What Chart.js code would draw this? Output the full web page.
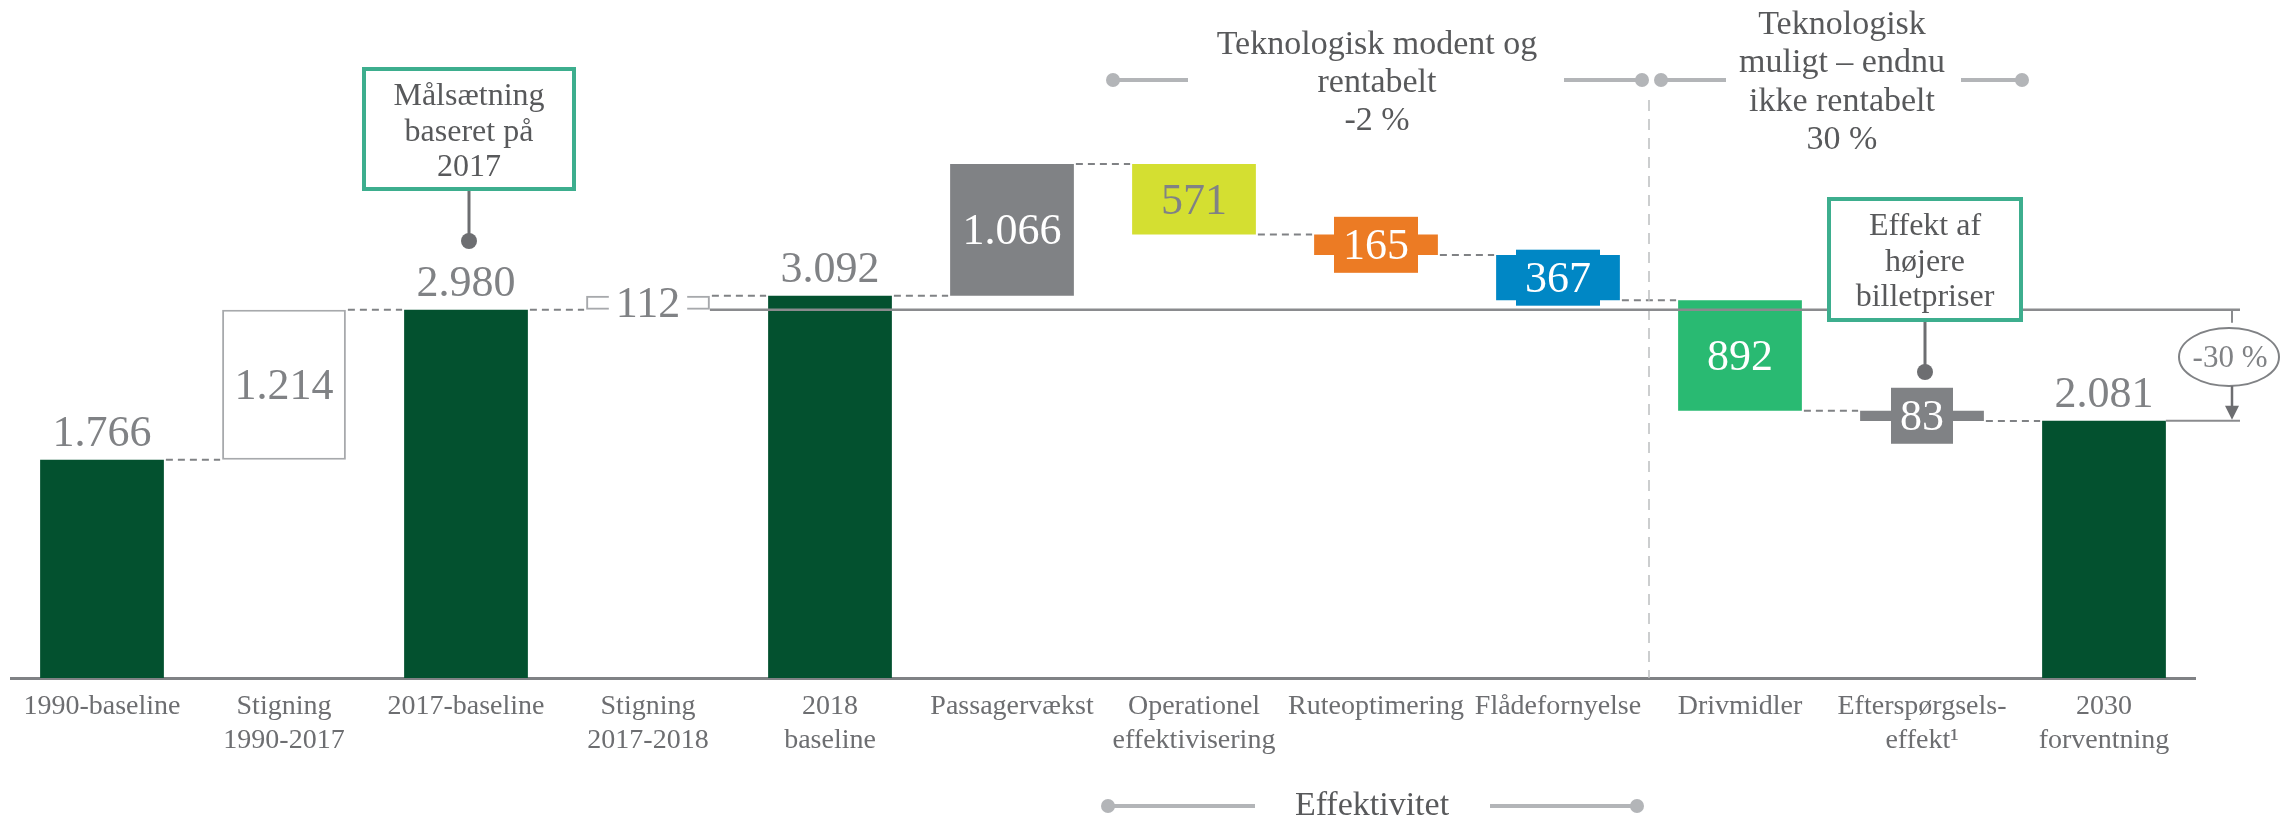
<!DOCTYPE html>
<html>
<head>
<meta charset="utf-8">
<script src="https://cdn.jsdelivr.net/npm/chart.js@4.4.1/dist/chart.umd.min.js"></script>
<style>
  html, body { margin: 0; padding: 0; background: #ffffff; }
  #wrap { width: 2282px; height: 821px; }
</style>
</head>
<body>
<div id="wrap"><canvas id="barCanvas" width="2282" height="821"></canvas></div>
<script>
const categories = [
    ['1990-baseline'], ['Stigning', '1990-2017'], ['2017-baseline'], ['Stigning', '2017-2018'],
    ['2018', 'baseline'], ['Passagervækst'], ['Operationel', 'effektivisering'], ['Ruteoptimering'],
    ['Flådefornyelse'], ['Drivmidler'], ['Efterspørgsels-', 'effekt¹'], ['2030', 'forventning']
];
const values = [1766, 1214, 2980, 112, 3092, 1066, 571, 165, 367, 892, 83, 2081];
const kinds = ['total', 'up', 'total', 'up', 'total', 'up', 'down', 'down', 'down', 'down', 'down', 'total'];
const valueLabels = ['1.766', '1.214', '2.980', '112', '3.092', '1.066', '571', '165', '367', '892', '83', '2.081'];

const barColors = ['#03512F', '#FFFFFF', '#03512F', 'rgba(0,0,0,0)', '#03512F', '#808285',
    '#D4DF31', '#EC7B24', '#0087C5', '#29BA72', '#808285', '#03512F'];
const borderWidths = [0, 2, 0, 2, 0, 0, 0, 0, 0, 0, 0, 0];
const labelPos = ['above', 'center', 'above', 'center', 'above', 'center', 'center', 'center', 'center', 'center', 'center', 'above'];
const labelColors = ['#808285', '#808285', '#808285', '#808285', '#808285', '#FFFFFF',
    '#808285', '#FFFFFF', '#FFFFFF', '#FFFFFF', '#FFFFFF', '#808285'];
const labelBoxes = [null, null, null, '#FFFFFF', null, null, null, '#EC7B24', '#0087C5', null, '#808285', null];

const serif = "'Liberation Serif', 'DejaVu Serif', serif";

// waterfall ranges + running level after each step
const ranges = [];
const levels = [];
let run = 0;
values.forEach((v, i) => {
    if (kinds[i] === 'total') { ranges.push([0, v]); run = v; }
    else if (kinds[i] === 'up') { ranges.push([run, run + v]); run += v; }
    else { ranges.push([run - v, run]); run -= v; }
    levels.push(run);
});

function line(ctx, x1, y1, x2, y2, color, w, dash) {
    ctx.save();
    ctx.strokeStyle = color;
    ctx.lineWidth = w;
    ctx.setLineDash(dash || []);
    ctx.beginPath();
    ctx.moveTo(x1, y1);
    ctx.lineTo(x2, y2);
    ctx.stroke();
    ctx.restore();
}

function dot(ctx, x, y, r, color) {
    ctx.fillStyle = color;
    ctx.beginPath();
    ctx.arc(x, y, r, 0, Math.PI * 2);
    ctx.fill();
}

function textLines(ctx, lines, x, y0, step, font, color) {
    ctx.font = font;
    ctx.fillStyle = color;
    ctx.textAlign = 'center';
    ctx.textBaseline = 'middle';
    lines.forEach((t, k) => ctx.fillText(t, x, y0 + k * step));
}

function callout(ctx, cx, top, h, w, lines, dotY) {
    line(ctx, cx, top + h, cx, dotY, '#6D6E71', 3);
    dot(ctx, cx, dotY, 8, '#6D6E71');
    ctx.fillStyle = '#FFFFFF';
    ctx.fillRect(cx - w / 2, top, w, h);
    ctx.strokeStyle = '#3DAE8E';
    ctx.lineWidth = 4;
    ctx.strokeRect(cx - w / 2, top, w, h);
    textLines(ctx, lines, cx, top + 28, 35.5, `32px ${serif}`, '#58595B');
}

function groupHeader(ctx, x1, x2, y, segL, segR, color) {
    line(ctx, x1, y, x1 + segL, y, color, 4);
    line(ctx, x2 - segR, y, x2, y, color, 4);
    dot(ctx, x1, y, 7, color);
    dot(ctx, x2, y, 7, color);
}

const waterfallPlugin = {
    id: 'waterfall',
    beforeDatasetsDraw(chart) {
        const ctx = chart.ctx;
        const xs = chart.scales.x, ys = chart.scales.y;
        const bars = chart.getDatasetMeta(0).data;
        // connectors
        for (let i = 0; i < bars.length - 1; i++) {
            const y = ys.getPixelForValue(levels[i]);
            const a = bars[i].x + bars[i].width / 2;
            const b = bars[i + 1].x - bars[i + 1].width / 2;
            line(ctx, a + 2, y, b - 2, y, '#808285', 2, [7, 5]);
        }
        // split between efficiency and technology parts
        const vx = xs.getPixelForValue(8.5);
        line(ctx, vx, 100, vx, chart.chartArea.bottom, '#BCBEC0', 1.5, [11, 8]);
    },
    afterDatasetsDraw(chart) {
        const ctx = chart.ctx;
        const xs = chart.scales.x, ys = chart.scales.y;
        const bars = chart.getDatasetMeta(0).data;

        // reference line at 2017 level
        const refY = ys.getPixelForValue(values[2]);
        const endX = chart.chartArea.right + 45;
        line(ctx, bars[3].x + bars[3].width / 2, refY, endX, refY, '#8A8B8E', 2.5);

        // value labels
        ctx.save();
        bars.forEach((bar, i) => {
            const top = Math.min(bar.y, bar.base);
            const bottom = Math.max(bar.y, bar.base);
            ctx.font = `44px ${serif}`;
            ctx.textAlign = 'center';
            const t = valueLabels[i];
            const tw = ctx.measureText(t).width;
            if (labelPos[i] === 'above') {
                ctx.textBaseline = 'alphabetic';
                ctx.fillStyle = labelColors[i];
                ctx.fillText(t, bar.x, top - 14);
                return;
            }
            const cy = (top + bottom) / 2;
            if (labelBoxes[i]) {
                ctx.fillStyle = labelBoxes[i];
                const white = labelBoxes[i] === '#FFFFFF';
                const pad = white ? 7 : 9;
                const h = white ? 30 : 56;
                ctx.fillRect(bar.x - tw / 2 - pad, cy - h / 2, tw + pad * 2, h);
            }
            ctx.textBaseline = 'middle';
            ctx.fillStyle = labelColors[i];
            ctx.fillText(t, bar.x, cy + 3);
        });
        ctx.restore();

        // -30 % marker
        const ax = endX - 8;
        const lowY = ys.getPixelForValue(values[11]);
        line(ctx, bars[11].x + bars[11].width / 2, lowY, endX, lowY, '#8A8B8E', 2);
        line(ctx, ax, refY, ax, refY + 13, '#8A8B8E', 2);
        ctx.save();
        ctx.strokeStyle = '#808285';
        ctx.lineWidth = 2;
        ctx.beginPath();
        ctx.ellipse(ax - 3, 357, 50, 29, 0, 0, Math.PI * 2);
        ctx.stroke();
        ctx.restore();
        line(ctx, ax, 386, ax, lowY - 14, '#6D6E71', 2.5);
        ctx.fillStyle = '#6D6E71';
        ctx.beginPath();
        ctx.moveTo(ax - 7, lowY - 15);
        ctx.lineTo(ax + 7, lowY - 15);
        ctx.lineTo(ax, lowY - 1);
        ctx.closePath();
        ctx.fill();
        textLines(ctx, ['-30 %'], ax - 2, 359, 0, `31px ${serif}`, '#808285');

        // callouts
        callout(ctx, bars[2].x + 3, 69, 120, 210, ['Målsætning', 'baseret på', '2017'], 241);
        callout(ctx, bars[10].x + 3, 199, 121, 192, ['Effekt af', 'højere', 'billetpriser'], 372);

        // group headers
        const b1 = xs.getPixelForValue(5.5), b2 = xs.getPixelForValue(8.5), b3 = xs.getPixelForValue(10.5);
        groupHeader(ctx, b1 + 10, b2 - 7, 80, 75, 78, '#B3B5B8');
        textLines(ctx, ['Teknologisk modent og', 'rentabelt', '-2 %'], (b1 + b2) / 2 + 1, 45, 38, `34px ${serif}`, '#58595B');
        groupHeader(ctx, b2 + 12, b3 + 9, 80, 65, 61, '#B3B5B8');
        textLines(ctx, ['Teknologisk', 'muligt – endnu', 'ikke rentabelt', '30 %'], (b2 + b3) / 2 + 11, 25, 38.5, `34px ${serif}`, '#58595B');
        groupHeader(ctx, b1 + 5, b2 - 12, 806, 147, 147, '#B3B5B8');
        textLines(ctx, ['Effektivitet'], (b1 + b2) / 2 - 4, 806, 0, `34px ${serif}`, '#58595B');
    }
};

const barCanvas = document.getElementById('barCanvas');

const barChart = new Chart(barCanvas, {
    type: 'bar',
    data: {
        labels: categories,
        datasets: [{
            data: ranges,
            backgroundColor: barColors,
            borderColor: '#A7A9AC',
            borderWidth: borderWidths,
            borderSkipped: false,
            barPercentage: 0.68,
            categoryPercentage: 1.0
        }]
    },
    options: {
        responsive: false,
        animation: false,
        devicePixelRatio: 1,
        layout: { padding: { left: 11, right: 87, top: 0, bottom: 0 } },
        plugins: { legend: { display: false }, tooltip: { enabled: false } },
        scales: {
            x: {
                offset: true,
                grid: { display: false, drawTicks: false },
                border: { display: true, color: '#808285', width: 3 },
                ticks: {
                    autoSkip: false,
                    maxRotation: 0,
                    minRotation: 0,
                    padding: 12,
                    color: '#6D6E71',
                    font: { family: serif, size: 28, lineHeight: 1.2 }
                },
                afterFit: (scale) => { scale.height = 143; }
            },
            y: {
                display: false,
                min: 0,
                max: 5485
            }
        }
    },
    plugins: [waterfallPlugin]
});
</script>
</body>
</html>
